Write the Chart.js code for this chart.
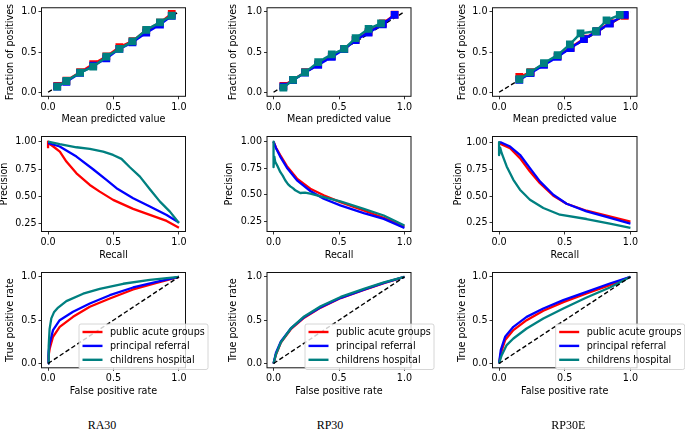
<!DOCTYPE html>
<html>
<head>
<meta charset="utf-8">
<script src="https://cdn.jsdelivr.net/npm/chart.js@4.4.1/dist/chart.umd.min.js"></script>
<style>
  body { margin: 0; background: #fff; width: 685px; height: 434px; position: relative; overflow: hidden; }
  canvas { position: absolute; }
  .model-name { position: absolute; top: 418.7px; width: 100px; text-align: center;
    font-family: "Liberation Serif", "Times New Roman", serif; font-size: 12px; line-height: 12px; color: #000; }
</style>
</head>
<body>
<script>
const seriesNames = ['public acute groups', 'principal referral', 'childrens hospital'];
const modelNames = ['RA30', 'RP30', 'RP30E'];
const unitTicks = [0, 0.5, 1.0];
const precisionTicks = [0.25, 0.5, 0.75, 1.0];
const diagonal = [0, 1];

// calibration curves (mean predicted value, fraction of positives)
const ra30CalX = [0.07, 0.14, 0.245, 0.345, 0.445, 0.545, 0.645, 0.75, 0.855, 0.945];
const ra30CalRed = [0.08, 0.145, 0.25, 0.35, 0.445, 0.56, 0.635, 0.77, 0.865, 0.975];
const ra30CalBlue = [0.07, 0.13, 0.24, 0.33, 0.42, 0.54, 0.62, 0.74, 0.84, 0.95];
const ra30CalTeal = [0.07, 0.14, 0.244, 0.318, 0.442, 0.539, 0.632, 0.775, 0.868, 0.953];

const rp30CalX = [0.075, 0.149, 0.241, 0.341, 0.445, 0.54, 0.627, 0.726, 0.835, 0.925];
const rp30CalRed = [0.08, 0.155, 0.25, 0.35, 0.45, 0.54, 0.65, 0.75, 0.855, 0.965];
const rp30CalBlue = [0.07, 0.15, 0.245, 0.34, 0.44, 0.535, 0.648, 0.741, 0.845, 0.961];
const rp30CalTealX = [0.075, 0.149, 0.241, 0.341, 0.445, 0.54, 0.627, 0.726, 0.821];
const rp30CalTeal = [0.058, 0.154, 0.247, 0.375, 0.471, 0.54, 0.672, 0.788, 0.857];

const rp30eCalX = [0.154, 0.24, 0.342, 0.446, 0.545, 0.646, 0.745, 0.843, 0.957];
const rp30eCalRed = [0.19, 0.25, 0.35, 0.45, 0.555, 0.665, 0.76, 0.86, 0.95];
const rp30eCalBlue = [0.154, 0.238, 0.34, 0.44, 0.55, 0.66, 0.755, 0.854, 0.962];
const rp30eCalTealX = [0.154, 0.235, 0.342, 0.446, 0.539, 0.62, 0.737, 0.818, 0.919];
const rp30eCalTeal = [0.162, 0.246, 0.362, 0.462, 0.596, 0.731, 0.758, 0.892, 0.962];

// precision-recall curves
const ra30PrRedR = [0, 0, 0.01, 0.04, 0.09, 0.14, 0.217, 0.319, 0.395, 0.497, 0.65, 0.778, 0.906, 1.0];
const ra30PrRedP = [0.94, 1.0, 0.98, 0.955, 0.909, 0.818, 0.711, 0.605, 0.544, 0.469, 0.387, 0.332, 0.277, 0.216];
const ra30PrBlueR = [0, 0.02, 0.089, 0.217, 0.344, 0.446, 0.523, 0.65, 0.778, 0.906, 1.0];
const ra30PrBlueP = [0.985, 0.98, 0.955, 0.863, 0.748, 0.651, 0.575, 0.484, 0.408, 0.332, 0.262];
const ra30PrTealR = [0, 0.089, 0.217, 0.319, 0.421, 0.497, 0.561, 0.625, 0.702, 0.778, 0.855, 0.931, 1.0];
const ra30PrTealP = [1.0, 0.976, 0.948, 0.933, 0.909, 0.878, 0.842, 0.766, 0.681, 0.566, 0.453, 0.362, 0.258];

const rp30PrRedR = [0, 0.02, 0.051, 0.102, 0.179, 0.281, 0.383, 0.51, 0.689, 0.842, 1.0];
const rp30PrRedP = [1.0, 0.94, 0.873, 0.769, 0.652, 0.557, 0.494, 0.43, 0.351, 0.282, 0.2];
const rp30PrBlueR = [0, 0.02, 0.051, 0.102, 0.179, 0.281, 0.383, 0.51, 0.689, 0.842, 1.0];
const rp30PrBlueP = [1.0, 0.935, 0.86, 0.755, 0.635, 0.535, 0.462, 0.399, 0.326, 0.272, 0.187];
const rp30PrTealR = [0, 0, 0.006, 0.013, 0.03, 0.051, 0.07, 0.089, 0.11, 0.128, 0.15, 0.166, 0.19, 0.204, 0.24, 0.281, 0.383, 0.51, 0.689, 0.842, 1.0];
const rp30PrTealP = [1.0, 0.76, 0.86, 0.81, 0.77, 0.715, 0.68, 0.636, 0.6, 0.579, 0.56, 0.541, 0.525, 0.516, 0.52, 0.51, 0.478, 0.437, 0.367, 0.304, 0.209];

const rp30ePrRedR = [0, 0.02, 0.084, 0.159, 0.235, 0.311, 0.413, 0.514, 0.666, 0.818, 1.0];
const rp30ePrRedP = [0.99, 0.98, 0.944, 0.852, 0.728, 0.62, 0.503, 0.429, 0.364, 0.318, 0.262];
const rp30ePrBlueR = [0, 0.02, 0.084, 0.159, 0.235, 0.311, 0.413, 0.514, 0.666, 0.818, 1.0];
const rp30ePrBlueP = [1.0, 0.995, 0.96, 0.883, 0.759, 0.636, 0.512, 0.429, 0.358, 0.306, 0.245];
const rp30ePrTealR = [0, 0, 0.008, 0.02, 0.058, 0.109, 0.159, 0.235, 0.337, 0.463, 0.666, 0.843, 1.0];
const rp30ePrTealP = [1.0, 0.88, 0.95, 0.898, 0.775, 0.651, 0.559, 0.466, 0.389, 0.327, 0.287, 0.244, 0.204];

// ROC curves (false positive rate, true positive rate)
const ra30RocRedF = [0, 0.004, 0.013, 0.038, 0.089, 0.191, 0.319, 0.472, 0.65, 0.829, 1.0];
const ra30RocRedT = [0, 0.09, 0.173, 0.308, 0.423, 0.538, 0.654, 0.75, 0.854, 0.931, 1.0];
const ra30RocBlueF = [0, 0.004, 0.013, 0.038, 0.089, 0.191, 0.319, 0.472, 0.65, 0.829, 1.0];
const ra30RocBlueT = [0, 0.13, 0.231, 0.385, 0.5, 0.596, 0.692, 0.788, 0.877, 0.942, 1.0];
const ra30RocTealF = [0, 0.005, 0.012, 0.025, 0.045, 0.077, 0.14, 0.268, 0.395, 0.574, 0.778, 1.0];
const ra30RocTealT = [0, 0.2, 0.4, 0.52, 0.59, 0.645, 0.72, 0.805, 0.86, 0.92, 0.965, 1.0];

const rp30RocRedF = [0, 0.018, 0.056, 0.132, 0.234, 0.36, 0.513, 0.69, 0.843, 1.0];
const rp30RocRedT = [0, 0.1, 0.24, 0.395, 0.528, 0.645, 0.755, 0.85, 0.928, 1.0];
const rp30RocBlueF = [0, 0.018, 0.056, 0.132, 0.234, 0.36, 0.513, 0.69, 0.843, 1.0];
const rp30RocBlueT = [0, 0.12, 0.255, 0.404, 0.535, 0.65, 0.758, 0.852, 0.93, 1.0];
const rp30RocTealF = [0, 0.018, 0.056, 0.132, 0.234, 0.36, 0.513, 0.69, 0.843, 1.0];
const rp30RocTealT = [0, 0.105, 0.245, 0.404, 0.543, 0.66, 0.768, 0.86, 0.935, 1.0];

const rp30eRocRedF = [0, 0.013, 0.046, 0.109, 0.21, 0.337, 0.489, 0.666, 0.843, 1.0];
const rp30eRocRedT = [0, 0.115, 0.27, 0.385, 0.5, 0.608, 0.708, 0.808, 0.904, 1.0];
const rp30eRocBlueF = [0, 0.013, 0.046, 0.109, 0.21, 0.337, 0.489, 0.666, 0.843, 1.0];
const rp30eRocBlueT = [0, 0.154, 0.308, 0.423, 0.538, 0.635, 0.731, 0.827, 0.923, 1.0];
const rp30eRocTealF = [0, 0.02, 0.058, 0.109, 0.21, 0.337, 0.489, 0.666, 0.843, 1.0];
const rp30eRocTealT = [0, 0.096, 0.212, 0.288, 0.404, 0.519, 0.635, 0.762, 0.877, 1.0];

// layout of the 3x3 grid (page pixels)
const colLeft = [0, 222, 450], colWidth = [222, 233, 235];
const areaLeft = [41.5, 267, 492.5], areaRight = [185.5, 411, 637];
const rowTop = [0, 128, 264], rowHeight = [128, 136, 140];
const areaTop = [1.7, 136.5, 272.5], areaBottom = [96.3, 231.5, 367.8];
const xTitleY = [119.5, 255.7, 391.7];
const yTitleX = [[10, 233.5, 462], [4, 229.5, 458], [10, 233, 462]];
const prRange = [[0.181, 1.046], [0.153, 1.049], [0.171, 1.053]];
const legendLeft = [79, 305, 555.7];
const modelCenter = [102, 330, 568.3];

const seriesColors = ['#ff0000', '#0000ff', '#008080'];
const font = { family: 'DejaVu Sans', size: 9.6, lineHeight: 1.2 };
const lineH = font.size * font.lineHeight;

const spinesPlugin = {
    id: 'spines',
    afterDatasetsDraw(chart) {
        const { ctx, chartArea: a } = chart;
        ctx.save();
        ctx.strokeStyle = '#111';
        ctx.lineWidth = 1;
        ctx.strokeRect(a.left, a.top, a.right - a.left, a.bottom - a.top);
        ctx.restore();
    }
};

function legendPlugin(left, top) {
    return {
        id: 'boxLegend',
        afterDraw(chart) {
            const ctx = chart.ctx;
            const w = 129, h = 45.5, r = 2;
            ctx.save();
            ctx.beginPath();
            ctx.roundRect(left, top, w, h, r);
            ctx.fillStyle = 'rgba(255,255,255,0.8)';
            ctx.fill();
            ctx.strokeStyle = '#cccccc';
            ctx.lineWidth = 0.8;
            ctx.stroke();
            ctx.font = font.size + 'px "DejaVu Sans"';
            ctx.textBaseline = 'middle';
            ctx.textAlign = 'left';
            seriesNames.forEach((name, i) => {
                const y = top + 8 + i * 13.9;
                ctx.beginPath();
                ctx.moveTo(left + 3.5, y);
                ctx.lineTo(left + 23.5, y);
                ctx.strokeStyle = seriesColors[i];
                ctx.lineWidth = 2.4;
                ctx.stroke();
                ctx.fillStyle = '#000';
                ctx.fillText(name, left + 31, y + 0.5);
            });
            ctx.restore();
        }
    };
}

function buildDatasets(kind, series) {
    const sets = series.map((s, i) => ({
        data: s[0].map((x, j) => ({ x: x, y: s[1][j] })),
        borderColor: seriesColors[i],
        backgroundColor: seriesColors[i],
        borderWidth: kind === 'cal' ? 2.4 : 2.3,
        borderJoinStyle: 'round',
        showLine: true,
        pointStyle: 'rect',
        pointRadius: kind === 'cal' ? 5.5 : 0,
        pointBorderWidth: 0,
        pointHoverRadius: 0
    })).reverse(); // last plotted series ends up on top
    const diag = {
        data: diagonal.map(v => ({ x: v, y: v })),
        borderColor: '#000',
        borderWidth: 1.4,
        borderDash: [4.5, 2.5],
        showLine: true,
        pointRadius: 0,
        pointHoverRadius: 0
    };
    if (kind === 'cal') sets.push(diag);
    if (kind === 'roc') sets.unshift(diag);
    return sets;
}

function axisOptions(min, max, ticks, decimals, title, titlePad, fit) {
    return {
        type: 'linear', min: min, max: max,
        afterBuildTicks: s => { s.ticks = ticks.map(v => ({ value: v })); },
        afterFit: fit,
        ticks: { callback: v => v.toFixed(decimals), font: font, color: '#000', padding: 2, autoSkip: false, maxRotation: 0 },
        grid: { drawOnChartArea: false, tickLength: 3, tickColor: '#000', tickWidth: 0.8 },
        border: { display: false },
        title: { display: true, text: title, font: font, color: '#000', padding: titlePad }
    };
}

function makePanel(row, col, kind, series) {
    const cx = colLeft[col], cw = colWidth[col], ry = rowTop[row], ch = rowHeight[row];
    const canvas = document.createElement('canvas');
    canvas.width = cw;
    canvas.height = ch;
    canvas.style.left = cx + 'px';
    canvas.style.top = ry + 'px';
    document.body.appendChild(canvas);

    const titles = {
        cal: ['Mean predicted value', 'Fraction of positives'],
        pr: ['Recall', 'Precision'],
        roc: ['False positive rate', 'True positive rate']
    }[kind];
    const yMin = kind === 'pr' ? prRange[col][0] : -0.05;
    const yMax = kind === 'pr' ? prRange[col][1] : 1.05;
    const yTicks = kind === 'pr' ? precisionTicks : unitTicks;

    const plugins = [spinesPlugin];
    if (kind === 'roc') plugins.push(legendPlugin(legendLeft[col] - cx, 324 - ry));

    new Chart(canvas.getContext('2d'), {
        type: 'scatter',
        data: { datasets: buildDatasets(kind, series) },
        options: {
            responsive: false,
            animation: false,
            events: [],
            layout: { padding: { left: 0, top: areaTop[row] - ry, right: cx + cw - areaRight[col], bottom: 0 } },
            plugins: { legend: { display: false }, tooltip: { enabled: false } },
            scales: {
                x: axisOptions(-0.05, 1.05, unitTicks, 1, titles[0],
                    { top: 0, bottom: ch - (xTitleY[row] - ry) - lineH / 2 },
                    s => { s.height = ry + ch - areaBottom[row]; }),
                y: axisOptions(yMin, yMax, yTicks, kind === 'pr' ? 2 : 1, titles[1],
                    { top: yTitleX[row][col] - cx - lineH / 2, bottom: 0 },
                    s => { s.width = areaLeft[col] - cx; })
            }
        },
        plugins: plugins
    });
}

const calibration = [
    [[ra30CalX, ra30CalRed], [ra30CalX, ra30CalBlue], [ra30CalX, ra30CalTeal]],
    [[rp30CalX, rp30CalRed], [rp30CalX, rp30CalBlue], [rp30CalTealX, rp30CalTeal]],
    [[rp30eCalX, rp30eCalRed], [rp30eCalX, rp30eCalBlue], [rp30eCalTealX, rp30eCalTeal]]
];
const precisionRecall = [
    [[ra30PrRedR, ra30PrRedP], [ra30PrBlueR, ra30PrBlueP], [ra30PrTealR, ra30PrTealP]],
    [[rp30PrRedR, rp30PrRedP], [rp30PrBlueR, rp30PrBlueP], [rp30PrTealR, rp30PrTealP]],
    [[rp30ePrRedR, rp30ePrRedP], [rp30ePrBlueR, rp30ePrBlueP], [rp30ePrTealR, rp30ePrTealP]]
];
const roc = [
    [[ra30RocRedF, ra30RocRedT], [ra30RocBlueF, ra30RocBlueT], [ra30RocTealF, ra30RocTealT]],
    [[rp30RocRedF, rp30RocRedT], [rp30RocBlueF, rp30RocBlueT], [rp30RocTealF, rp30RocTealT]],
    [[rp30eRocRedF, rp30eRocRedT], [rp30eRocBlueF, rp30eRocBlueT], [rp30eRocTealF, rp30eRocTealT]]
];

for (let col = 0; col < 3; col++) {
    makePanel(0, col, 'cal', calibration[col]);
    makePanel(1, col, 'pr', precisionRecall[col]);
    makePanel(2, col, 'roc', roc[col]);

    const label = document.createElement('div');
    label.className = 'model-name';
    label.style.left = (modelCenter[col] - 50) + 'px';
    label.textContent = modelNames[col];
    document.body.appendChild(label);
}
</script>
</body>
</html>
